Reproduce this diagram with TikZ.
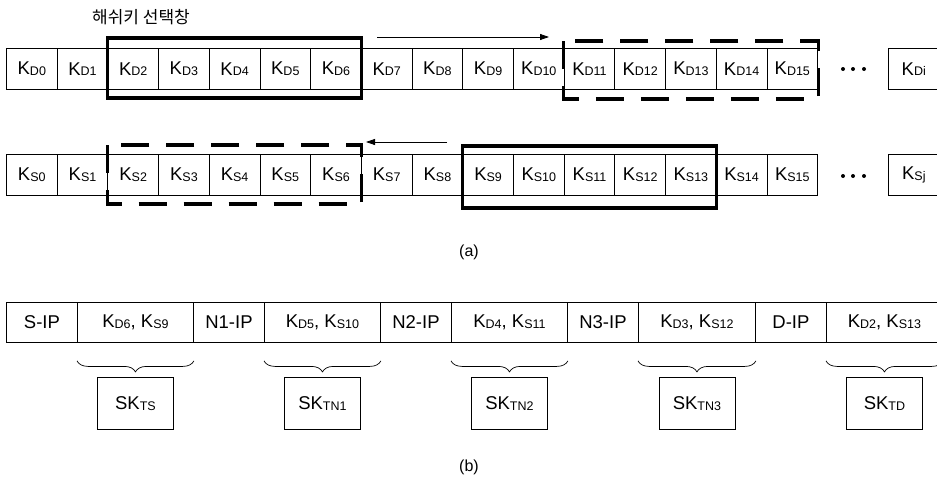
\documentclass[tikz,border=0pt]{standalone}
\usepackage{fontspec}
\setmainfont{Liberation Sans}
\newfontfamily\krfont{Noto Sans CJK KR}
\usetikzlibrary{arrows.meta,decorations.pathreplacing}
\newcommand\kk[2]{#1\raisebox{-0.6pt}{\fontsize{12.5}{12.5}\selectfont #2}}
\begin{document}
\begin{tikzpicture}[x=1pt,y=-1pt,
 cell/.style={draw,line width=0.9pt,minimum width=50.7pt,minimum height=41pt,inner sep=0pt,anchor=north west,font=\fontsize{18.5}{18.5}\selectfont},
 ipcell/.style={cell,minimum width=71pt,minimum height=40pt},
 keycell/.style={cell,minimum width=116pt,minimum height=40pt},
 skbox/.style={draw,line width=0.9pt,minimum width=76pt,minimum height=52pt,inner sep=0pt,anchor=north,font=\fontsize{18.5}{18.5}\selectfont},
 win/.style={line width=3.2pt},
 dwin/.style={line width=3.2pt,dash pattern=on 28pt off 17pt},
 mv/.style={line width=0.8pt,-{Triangle[length=9pt,width=6pt]}},
 br/.style={decorate,decoration={brace,mirror,amplitude=11pt},line width=0.7pt},
 lab/.style={font=\fontsize{16}{16}\selectfont},
 dot/.style={circle,fill,inner sep=0pt,minimum size=4pt}
]
\useasboundingbox (0,0) rectangle (937,482);
\clip (0,0) rectangle (937,482);
\fill[white] (0,0) rectangle (937,482);

% (a) rows
\foreach \k in {0,...,15}{
  \node[cell] (d\k) at ({6+50.7*\k},48) {\kk{K}{D\k}};
  \node[cell] (s\k) at ({6+50.7*\k},154) {\kk{K}{S\k}};
}
\node[cell] (di) at (888,48) {\kk{K}{Di}};
\node[cell] (sj) at (888,154) {\kk{K}{Sj}};
\foreach \x/\n in {843/1,853/2,864/3}{
  \node[dot] (dd\n) at (\x,69) {};
  \node[dot] (sd\n) at (\x,176) {};
}

% windows
\draw[win] ([yshift=10pt]d2.north west) rectangle ([yshift=-8pt]d6.south east);
\draw[dwin] ([yshift=7pt]d11.north west) rectangle ([yshift=-9pt]d15.south east);
\draw[dwin] ([yshift=9pt]s2.north west) rectangle ([yshift=-8pt]s6.south east);
\draw[win] ([yshift=8pt]s9.north west) rectangle ([yshift=-12pt]s13.south east);

% movement arrows
\coordinate (r1a) at (377,37); \coordinate (r1b) at (549,37);
\draw[mv] (r1a) -- (r1b);
\coordinate (r2a) at (447,142); \coordinate (r2b) at (366,142);
\draw[mv] (r2a) -- (r2b);

\node[font=\krfont\fontsize{17}{17}\selectfont] (title) at (141,17) {해쉬키 선택창};
\node[lab] (la) at (469,252) {(a)};

% (b)
\node[ipcell] (b1) at (6,302) {S-IP};
\node[keycell] (b2) at (77,302) {\kk{K}{D6}, \kk{K}{S9}};
\node[ipcell] (b3) at (193,302) {N1-IP};
\node[keycell] (b4) at (264,302) {\kk{K}{D5}, \kk{K}{S10}};
\node[ipcell] (b5) at (380,302) {N2-IP};
\node[keycell] (b6) at (451,302) {\kk{K}{D4}, \kk{K}{S11}};
\node[ipcell] (b7) at (567,302) {N3-IP};
\node[keycell,minimum width=117pt] (b8) at (638,302) {\kk{K}{D3}, \kk{K}{S12}};
\node[ipcell] (b9) at (755,302) {D-IP};
\node[keycell] (b10) at (826,302) {\kk{K}{D2}, \kk{K}{S13}};

\foreach \b/\s/\t in {b2/sk1/TS, b4/sk2/TN1, b6/sk3/TN2, b8/sk4/TN3, b10/sk5/TD}{
  \draw[br] ([yshift=-18pt]\b.south west) -- ([yshift=-18pt]\b.south east);
  \node[skbox] (\s) at ([yshift=-34pt]\b.south) {\kk{SK}{\t}};
}
\node[lab] (lb) at (469,467) {(b)};
\end{tikzpicture}
\end{document}
